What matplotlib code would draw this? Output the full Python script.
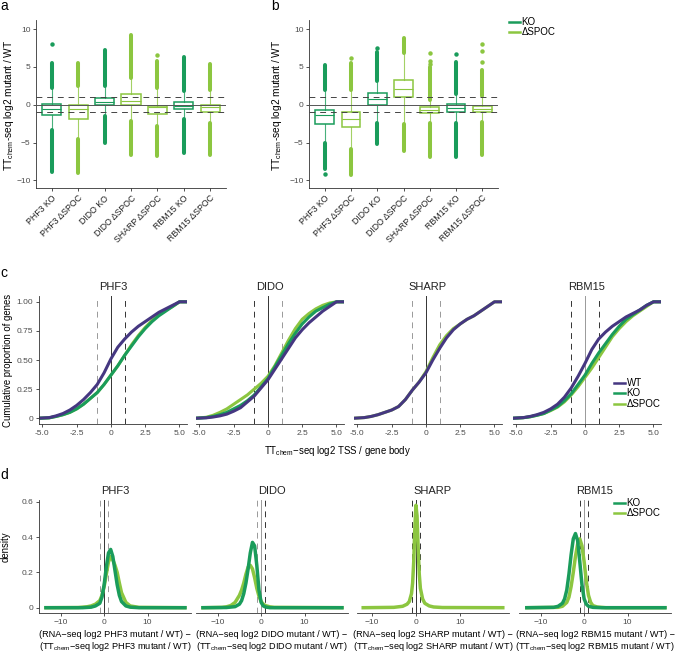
import matplotlib.pyplot as plt
from matplotlib.lines import Line2D

plt.rcParams['font.family'] = ['Liberation Sans', 'DejaVu Sans']
plt.rcParams['mathtext.fontset'] = 'custom'
plt.rcParams['mathtext.rm'] = 'Liberation Sans'
plt.rcParams['mathtext.it'] = 'Liberation Sans:italic'
plt.rcParams['axes.unicode_minus'] = False

KO_COL = '#1a9c5b'
SPOC_COL = '#8cc640'
WT_COL = '#453781'
TXT = '#4d4d4d'

# ---- panels a / b : boxplots ----
box_labels = ['PHF3 KO', 'PHF3 ΔSPOC', 'DIDO KO', 'DIDO ΔSPOC',
              'SHARP ΔSPOC', 'RBM15 KO', 'RBM15 ΔSPOC']
box_kind = ['KO', 'SPOC', 'KO', 'SPOC', 'SPOC', 'KO', 'SPOC']

a_q1 = [-1.3, -1.85, -0.04, 0.0, -1.25, -0.57, -0.97]
a_med = [-0.5, -0.6, 0.4, 0.5, -0.35, -0.13, -0.3]
a_q3 = [0.05, 0.0, 0.95, 1.45, -0.15, 0.4, 0.0]
a_wlo = [-3.3, -4.4, -1.4, -2.1, -2.7, -1.8, -2.3]
a_whi = [2.1, 2.4, 2.35, 3.4, 2.1, 1.7, 1.9]
a_band_lo = [(-8.85, -3.4), (-9.0, -4.5), (-5.1, -1.5), (-6.6, -2.2),
             (-6.8, -2.8), (-6.4, -1.9), (-6.7, -2.4)]
a_band_hi = [(2.2, 5.5), (2.5, 5.5), (2.45, 7.3), (3.5, 9.2),
             (2.2, 5.8), (1.8, 6.3), (2.0, 5.4)]
a_points = [[8.0], [], [], [], [6.6], [], []]

b_q1 = [-2.5, -3.0, 0.0, 1.0, -1.15, -0.93, -1.0]
b_med = [-1.4, -1.85, 0.7, 2.1, -0.7, -0.45, -0.6]
b_q3 = [-0.66, -1.0, 1.55, 3.3, -0.35, 0.05, -0.2]
b_wlo = [-4.9, -5.8, -2.3, -2.5, -2.3, -2.3, -2.2]
b_whi = [1.9, 1.9, 3.0, 6.7, 0.55, 1.3, 1.0]
b_band_lo = [(-8.5, -5.0), (-9.3, -5.9), (-5.2, -2.4), (-6.1, -2.6),
             (-6.9, -2.4), (-6.9, -2.4), (-6.6, -2.3)]
b_band_hi = [(2.0, 5.2), (2.0, 5.5), (3.1, 7.0), (6.8, 8.8),
             (0.6, 4.95), (1.4, 5.6), (1.1, 4.6)]
b_points = [[-9.1], [6.2], [7.5], [], [5.4, 5.8, 6.9], [6.7], [5.7, 7.05, 8.0]]

# ---- panel c : cumulative distributions ----
genes = ['PHF3', 'DIDO', 'SHARP', 'RBM15']
cdf_x = [-5.2, -4.5, -4, -3.5, -3, -2.5, -2, -1.5, -1, -0.5, 0, 0.5,
         1, 1.5, 2, 2.5, 3, 3.5, 4, 4.5, 5, 5.5]
cdf_wt = {
    'PHF3': [0, 0.005, 0.02, 0.04, 0.07, 0.11, 0.16, 0.22, 0.29, 0.39, 0.51, 0.61,
             0.68, 0.74, 0.79, 0.83, 0.87, 0.91, 0.94, 0.97, 1.0, 1.0],
    'DIDO': [0, 0.003, 0.01, 0.02, 0.035, 0.06, 0.09, 0.14, 0.19, 0.26, 0.33, 0.42,
             0.51, 0.60, 0.69, 0.76, 0.82, 0.87, 0.92, 0.96, 1.0, 1.0],
    'SHARP': [0, 0.005, 0.015, 0.03, 0.05, 0.07, 0.10, 0.16, 0.24, 0.31, 0.39, 0.50,
              0.60, 0.69, 0.76, 0.81, 0.85, 0.88, 0.92, 0.96, 1.0, 1.0],
    'RBM15': [0, 0.005, 0.015, 0.03, 0.05, 0.08, 0.12, 0.18, 0.26, 0.36, 0.47, 0.59,
              0.68, 0.74, 0.79, 0.83, 0.87, 0.90, 0.93, 0.97, 1.0, 1.0],
}
cdf_ko = {
    'PHF3': [0, 0.003, 0.015, 0.03, 0.05, 0.08, 0.12, 0.17, 0.22, 0.29, 0.37, 0.45,
             0.54, 0.62, 0.70, 0.77, 0.83, 0.88, 0.92, 0.96, 1.0, 1.0],
    'DIDO': [0, 0.005, 0.015, 0.03, 0.05, 0.08, 0.11, 0.15, 0.20, 0.27, 0.34, 0.44,
             0.54, 0.64, 0.73, 0.81, 0.87, 0.92, 0.95, 0.98, 1.0, 1.0],
    'RBM15': [0, 0.004, 0.012, 0.025, 0.04, 0.07, 0.10, 0.15, 0.21, 0.29, 0.37, 0.47,
              0.56, 0.64, 0.72, 0.79, 0.85, 0.89, 0.93, 0.97, 1.0, 1.0],
}
cdf_spoc = {
    'PHF3': [0, 0.003, 0.015, 0.03, 0.05, 0.08, 0.12, 0.17, 0.22, 0.29, 0.37, 0.45,
             0.54, 0.63, 0.71, 0.78, 0.84, 0.89, 0.93, 0.96, 1.0, 1.0],
    'DIDO': [0, 0.008, 0.025, 0.05, 0.08, 0.12, 0.16, 0.20, 0.25, 0.30, 0.36, 0.45,
             0.56, 0.67, 0.77, 0.85, 0.90, 0.94, 0.97, 0.99, 1.0, 1.0],
    'SHARP': [0, 0.005, 0.015, 0.03, 0.05, 0.07, 0.10, 0.16, 0.24, 0.31, 0.40, 0.52,
              0.63, 0.71, 0.77, 0.81, 0.85, 0.88, 0.92, 0.96, 1.0, 1.0],
    'RBM15': [0, 0.004, 0.012, 0.025, 0.04, 0.065, 0.095, 0.14, 0.20, 0.27, 0.35, 0.43,
              0.52, 0.61, 0.70, 0.77, 0.83, 0.88, 0.92, 0.96, 1.0, 1.0],
}

# ---- panel d : densities ----
d_phf3_ko_x = [-13.4, -5, -3, -2, -1, -0.5, 0, 0.5, 1, 1.5, 2, 2.5, 3, 3.5, 4, 5, 6, 8, 18.6]
d_phf3_ko_y = [0, 0, 0.003, 0.01, 0.025, 0.06, 0.13, 0.23, 0.31, 0.33, 0.29, 0.21, 0.13,
               0.07, 0.035, 0.01, 0.003, 0, 0]
d_phf3_spoc_x = [-13.4, -6, -4, -3, -2, -1, -0.5, 0, 0.5, 1, 1.5, 2, 2.5, 3, 3.5, 4, 5, 6, 8, 18.6]
d_phf3_spoc_y = [0, 0.001, 0.005, 0.01, 0.02, 0.04, 0.07, 0.12, 0.19, 0.26, 0.29, 0.27, 0.24,
                 0.2, 0.14, 0.085, 0.03, 0.01, 0.002, 0]
d_dido_ko_x = [-13.4, -8, -6, -5, -4.5, -4, -3.5, -3, -2.5, -2, -1.5, -1, -0.5, 0, 0.5, 1, 2, 18.6]
d_dido_ko_y = [0, 0.001, 0.006, 0.02, 0.04, 0.08, 0.14, 0.22, 0.31, 0.37, 0.35, 0.24, 0.1,
               0.03, 0.01, 0.004, 0, 0]
d_dido_spoc_x = [-13.4, -9, -8, -7, -6, -5, -4.5, -4, -3.5, -3, -2.5, -2, -1.5, -1, -0.5, 0,
                 0.5, 1, 2, 3, 18.6]
d_dido_spoc_y = [0, 0.002, 0.005, 0.012, 0.03, 0.07, 0.1, 0.14, 0.19, 0.23, 0.24, 0.22, 0.17,
                 0.11, 0.065, 0.035, 0.02, 0.012, 0.005, 0.002, 0]
d_sharp_spoc_x = [-11.9, -5, -3, -2, -1.5, -1, -0.75, -0.5, -0.25, 0, 0.25, 0.5, 0.75, 1, 1.5,
                  2, 3, 4, 6, 19.6]
d_sharp_spoc_y = [0, 0.002, 0.008, 0.02, 0.035, 0.08, 0.14, 0.26, 0.45, 0.58, 0.52, 0.34, 0.19,
                  0.11, 0.05, 0.025, 0.01, 0.004, 0.001, 0]
d_rbm15_ko_x = [-13.2, -7, -6, -5, -4.5, -4, -3.5, -3, -2.5, -2, -1.5, -1, -0.5, 0, 0.5, 1, 2, 4, 18.6]
d_rbm15_ko_y = [0, 0.002, 0.008, 0.025, 0.05, 0.1, 0.19, 0.3, 0.39, 0.42, 0.38, 0.26, 0.13,
                0.05, 0.02, 0.008, 0.002, 0, 0]
d_rbm15_spoc_x = [-13.2, -6, -5, -4, -3.5, -3, -2.5, -2, -1.5, -1, -0.5, 0, 0.5, 1, 1.5, 2, 3, 5, 18.6]
d_rbm15_spoc_y = [0, 0.002, 0.008, 0.03, 0.06, 0.12, 0.2, 0.29, 0.36, 0.39, 0.35, 0.26, 0.15,
                  0.07, 0.03, 0.012, 0.004, 0, 0]

# ---------------------------------------------------------------
W, H = 685, 653
fig = plt.figure(figsize=(W / 100, H / 100), dpi=100)

TICK_FS = 6
LAB_FS = 6.9


def add_ax(x0, x1, y0, y1):
    return fig.add_axes([x0 / W, 1 - y1 / H, (x1 - x0) / W, (y1 - y0) / H])


def classic(ax, left=True):
    for s in ['top', 'right']:
        ax.spines[s].set_visible(False)
    for s in ['left', 'bottom']:
        ax.spines[s].set_color('#333333')
        ax.spines[s].set_linewidth(0.6)
    ax.tick_params(length=2.5, width=0.6, color='#333333', labelsize=TICK_FS,
                   labelcolor=TXT, pad=1.5)
    if not left:
        ax.spines['left'].set_visible(False)
        ax.tick_params(axis='y', left=False, labelleft=False)


def leg(ax, handles, labels, x, y):
    ax.legend(handles=handles, labels=labels, loc='upper left',
              bbox_to_anchor=(x / W, 1 - y / H), bbox_transform=fig.transFigure,
              frameon=False, fontsize=7, handlelength=1.1, handletextpad=0.2,
              labelspacing=0.05, borderpad=0, borderaxespad=0)


def boxpanel(ax, q1, med, q3, wlo, whi, band_lo, band_hi, pts):
    pos = list(range(1, len(box_labels) + 1))
    for i, p in enumerate(pos):
        col = KO_COL if box_kind[i] == 'KO' else SPOC_COL
        st = dict(q1=q1[i], med=med[i], q3=q3[i], whislo=wlo[i], whishi=whi[i], fliers=[])
        ax.bxp([st], positions=[p], widths=0.72, showcaps=False, showfliers=False,
               patch_artist=True,
               boxprops=dict(facecolor='white', edgecolor=col, lw=1.1),
               medianprops=dict(color=col, lw=0.8),
               whiskerprops=dict(color=col, lw=0.8, alpha=0.8))
        ax.vlines([p, p], [band_lo[i][0], band_hi[i][0]], [band_lo[i][1], band_hi[i][1]],
                  color=col, lw=2.9, capstyle='round', zorder=3)
        if pts[i]:
            ax.plot([p] * len(pts[i]), pts[i], 'o', color=col, ms=3.2, mec='none', zorder=3)
    ax.axhline(0, color='#555555', lw=0.7, zorder=4)
    for yv in [-1, 1]:
        ax.axhline(yv, color='#444444', lw=0.7, dashes=(6, 5), zorder=4)
    ax.set_xlim(0.4, 7.6)
    ax.set_ylim(-11.0, 11.2)
    ax.set_yticks([-10, -5, 0, 5, 10])
    ax.set_yticklabels(['\u221210', '\u22125', '0', '5', '10'])
    ax.set_xticks(pos)
    ax.set_xticklabels(box_labels, rotation=45, ha='right', rotation_mode='anchor')
    classic(ax)
    ax.tick_params(axis='x', labelsize=6.3, labelcolor='#222222')


ax_a = add_ax(36, 226, 20, 188)
boxpanel(ax_a, a_q1, a_med, a_q3, a_wlo, a_whi, a_band_lo, a_band_hi, a_points)
ax_b = add_ax(309, 498, 20, 188)
boxpanel(ax_b, b_q1, b_med, b_q3, b_wlo, b_whi, b_band_lo, b_band_hi, b_points)
leg(ax_b, [Line2D([], [], color=KO_COL, lw=1.8), Line2D([], [], color=SPOC_COL, lw=1.8)],
    ['KO', '\u0394SPOC'], 509, 17)
for xc in [9, 277]:
    fig.text(xc / W, 1 - 105 / H, r'TT$_{\mathrm{chem}}$-seq log2 mutant / WT', rotation=90,
             ha='center', va='center', fontsize=7.3)

# ---- c ----
c_left = [39, 196, 354, 513]
c_vcol = [['#999999', '#333333', '#333333'], ['#333333', '#333333', '#999999'],
          ['#999999', '#333333', '#999999'], ['#333333', '#999999', '#333333']]
for k, g in enumerate(genes):
    ax = add_ax(c_left[k], c_left[k] + 148, 296, 424)
    for xv, c, ls in zip([-1, 0, 1], c_vcol[k], ['--', '-', '--']):
        if ls == '-':
            ax.axvline(xv, color=c, lw=0.7)
        else:
            ax.axvline(xv, color=c, lw=0.7, dashes=(6, 5))
    if g in cdf_spoc:
        ax.plot(cdf_x, cdf_spoc[g], color=SPOC_COL, lw=2.2)
    if g in cdf_ko:
        ax.plot(cdf_x, cdf_ko[g], color=KO_COL, lw=2.2)
    ax.plot(cdf_x, cdf_wt[g], color=WT_COL, lw=2.2)
    ax.set_xlim(-5.25, 5.55)
    ax.set_ylim(-0.05, 1.05)
    ax.set_xticks([-5, -2.5, 0, 2.5, 5])
    ax.set_xticklabels(['-5.0', '-2.5', '0', '2.5', '5.0'])
    ax.set_yticks([0, 0.25, 0.5, 0.75, 1.0])
    ax.set_yticklabels(['0', '0.25', '0.50', '0.75', '1.00'])
    classic(ax, left=(k == 0))
    ax.set_title(g, fontsize=8, pad=4.5, color='#222222')
    if k == 3:
        leg(ax, [Line2D([], [], color=WT_COL, lw=1.8), Line2D([], [], color=KO_COL, lw=1.8),
                 Line2D([], [], color=SPOC_COL, lw=1.8)],
            ['WT', 'KO', '\u0394SPOC'], 614, 378)

fig.text(8 / W, 1 - 360 / H, 'Cumulative proportion of genes', rotation=90,
         ha='center', va='center', fontsize=LAB_FS)
fig.text(338 / W, 1 - 451 / H, r'TT$_{\mathrm{chem}}$$-$seq log2 TSS / gene body',
         ha='center', va='center', fontsize=LAB_FS)

# ---- d ----
d_left = [39, 196, 357, 519]
d_xlim = [(-15, 20), (-15, 20), (-13.3, 21), (-15, 20)]
d_curves = [
    [(d_phf3_spoc_x, d_phf3_spoc_y, SPOC_COL), (d_phf3_ko_x, d_phf3_ko_y, KO_COL)],
    [(d_dido_spoc_x, d_dido_spoc_y, SPOC_COL), (d_dido_ko_x, d_dido_ko_y, KO_COL)],
    [(d_sharp_spoc_x, d_sharp_spoc_y, SPOC_COL)],
    [(d_rbm15_spoc_x, d_rbm15_spoc_y, SPOC_COL), (d_rbm15_ko_x, d_rbm15_ko_y, KO_COL)],
]
d_vcol = [['#999999', '#333333', '#999999'], ['#999999', '#999999', '#333333'],
          ['#333333', '#333333', '#333333'], ['#333333', '#999999', '#333333']]
for k, g in enumerate(genes):
    ax = add_ax(d_left[k], d_left[k] + 152, 500, 613)
    for xv, c, ls in zip([-1, 0, 1], d_vcol[k], ['--', '-', '--']):
        if ls == '-':
            ax.axvline(xv, color=c, lw=0.7)
        else:
            ax.axvline(xv, color=c, lw=0.7, dashes=(6, 5))
    for xs, ys, col in d_curves[k]:
        ax.plot(xs, ys, color=col, lw=2.5)
    ax.set_xlim(*d_xlim[k])
    ax.set_ylim(-0.03, 0.61)
    ax.set_xticks([-10, 0, 10])
    ax.set_xticklabels(['\u221210', '0', '10'])
    ax.set_yticks([0, 0.2, 0.4, 0.6])
    ax.set_yticklabels(['0', '0.2', '0.4', '0.6'])
    classic(ax, left=(k == 0))
    ax.set_title(g, fontsize=8, pad=4.5, color='#222222')
    ax.set_xlabel('(RNA\u2212seq log2 %s mutant / WT) \u2212\n'
                  r'(TT$_{\mathrm{chem}}$$-$seq log2 %s mutant / WT)' % (g, g),
                  fontsize=6.6, labelpad=3.5, linespacing=1.1)
    if k == 3:
        leg(ax, [Line2D([], [], color=KO_COL, lw=1.8), Line2D([], [], color=SPOC_COL, lw=1.8)],
            ['KO', '\u0394SPOC'], 614, 498)

fig.text(6 / W, 1 - 547 / H, 'density', rotation=90, ha='center', va='center', fontsize=LAB_FS)

for lab, x, y in [('a', 4, 6), ('b', 275, 6), ('c', 4, 273), ('d', 4, 475)]:
    fig.text(x / W, 1 - y / H, lab, ha='center', va='center', fontsize=10)

fig.savefig('out.png', dpi=100)
